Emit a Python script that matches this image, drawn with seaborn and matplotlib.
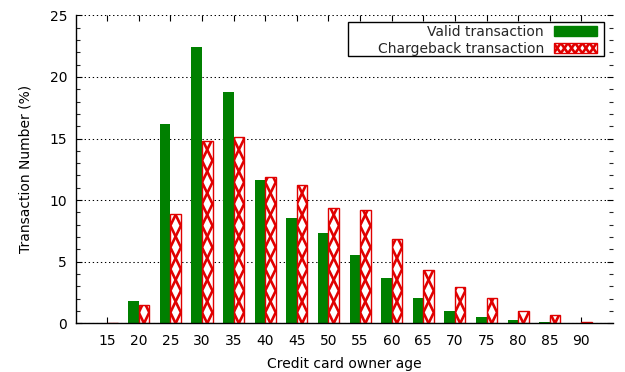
import numpy as np
import pandas as pd
import matplotlib
matplotlib.use("Agg")
import matplotlib.pyplot as plt
import seaborn as sns
from matplotlib.patches import Patch, Rectangle
from matplotlib.lines import Line2D
from matplotlib.legend_handler import HandlerBase
from matplotlib.ticker import MultipleLocator

ages = [15, 20, 25, 30, 35, 40, 45, 50, 55, 60, 65, 70, 75, 80, 85, 90]
valid = [0.04, 1.83, 16.2, 22.45, 18.77, 11.65, 8.55, 7.33, 5.54, 3.70, 2.05, 1.0, 0.51, 0.27, 0.11, 0.03]
chargeback = [0.0, 1.46, 8.87, 14.77, 15.15, 11.9, 11.25, 9.33, 9.22, 6.87, 4.33, 2.95, 2.05, 1.0, 0.67, 0.13]
series_names = ["Valid transaction", "Chargeback transaction"]
y_ticks = [0, 5, 10, 15, 20, 25]

GREEN = "#008000"
RED = "#e00000"
HATCH_LW = 1.9

sns.set_theme(style="white")
plt.rcParams["font.family"] = ["DejaVu Sans"]
FS = 10

df = pd.DataFrame({
    "age": [str(a) for a in ages] * 2,
    "pct": valid + chargeback,
    "type": [series_names[0]] * len(ages) + [series_names[1]] * len(ages),
})

fig = plt.figure(figsize=(6.25, 3.72), dpi=100)
ax = fig.add_axes([75.5 / 625, 1 - 323.3 / 372, (613 - 75.5) / 625, (323.3 - 15.3) / 372])

sns.barplot(data=df, x="age", y="pct", hue="type", order=[str(a) for a in ages],
            hue_order=series_names, palette=[GREEN, "white"], width=2 / 3,
            dodge=True, saturation=1, linewidth=0, errorbar=None, legend=False, ax=ax)

ax.set_xlim(-1, 16)
ax.set_ylim(0, 25)

n = len(ages)
# half period of the cross pattern, in data units (about 21.7 px)
half = 21.7 * (25 / 308.0)
for i, p in enumerate(ax.patches[:2 * n]):
    if i >= n:
        p.set_facecolor("white")
        p.set_edgecolor(RED)
        p.set_linewidth(1.0)
        h = p.get_height()
        if h <= 0:
            continue
        x0, w = p.get_x(), p.get_width()
        k = int(np.ceil(h / half)) + 1
        ys = np.arange(k + 1) * half
        xa = np.where(np.arange(k + 1) % 2 == 0, x0, x0 + w)
        xb = np.where(np.arange(k + 1) % 2 == 0, x0 + w, x0)
        for xs in (xa, xb):
            ln, = ax.plot(xs, ys - half / 2, color=RED, lw=HATCH_LW, zorder=p.get_zorder() + 0.1,
                          solid_joinstyle="miter")
            ln.set_clip_path(p)
    else:
        p.set_facecolor(GREEN)
        p.set_edgecolor(GREEN)

ax.set_yticks(y_ticks)
ax.yaxis.set_minor_locator(MultipleLocator(1))
ax.set_xticks(range(n))
ax.set_xticklabels([str(a) for a in ages])

ax.set_axisbelow(True)
ax.yaxis.grid(True, which="major", linestyle=(0, (1.3, 2.6)), color="black", linewidth=0.75)
ax.xaxis.grid(False)

for s in ["top", "right"]:
    ax.spines[s].set_visible(False)
for s in ["left", "bottom"]:
    ax.spines[s].set_visible(True)
    ax.spines[s].set_color("black")
    ax.spines[s].set_linewidth(1.0)

ax.tick_params(axis="x", which="major", direction="in", length=4.3, width=0.8,
               top=True, bottom=True, labelsize=FS, pad=7.5, colors="black")
ax.tick_params(axis="y", which="major", direction="in", length=4.3, width=0.8,
               left=True, right=True, labelsize=FS, pad=6, colors="black")
ax.tick_params(axis="y", which="minor", direction="in", length=2.8, width=0.8,
               left=True, right=True)

ax.set_xlabel("Credit card owner age", fontsize=FS, color="black", labelpad=7)
ax.set_ylabel("Transaction Number (%)", fontsize=FS, color="black", labelpad=12.5)


class CrossHandler(HandlerBase):
    def create_artists(self, legend, orig_handle, xdescent, ydescent, width, height,
                       fontsize, trans):
        rect = Rectangle((-xdescent, -ydescent), width, height, facecolor="white",
                         edgecolor=RED, linewidth=1.0, transform=trans)
        m = 6
        xs = -xdescent + np.linspace(0, width, m + 1)
        top = -ydescent + height
        bot = -ydescent
        ya = np.where(np.arange(m + 1) % 2 == 0, top, bot)
        yb = np.where(np.arange(m + 1) % 2 == 0, bot, top)
        arts = [rect]
        for yy in (ya, yb):
            ln = Line2D(xs, yy, color=RED, lw=HATCH_LW, transform=trans)
            ln.set_clip_path(rect)
            arts.append(ln)
        return arts


handles = [Patch(facecolor=GREEN, edgecolor=GREEN), Patch(facecolor="white", edgecolor=RED)]
aw, ah = 613 - 75.5, 323.3 - 15.3
leg = ax.legend(handles, series_names, loc="upper right",
                bbox_to_anchor=(1 - (613 - 596.7) / aw, 1 - (24.5 - 15.3) / ah),
                borderaxespad=0, borderpad=0, frameon=False, markerfirst=False,
                fontsize=FS, handlelength=3.1, handleheight=0.75,
                handletextpad=0.7, labelspacing=0.25,
                handler_map={handles[1]: CrossHandler()})
ax.add_patch(Rectangle(((348.3 - 75.5) / aw, 1 - (55.7 - 15.3) / ah),
                       (604.3 - 348.3) / aw, (55.7 - 22.3) / ah,
                       transform=ax.transAxes, fill=False, edgecolor="black",
                       linewidth=1.0, zorder=5, clip_on=False))

fig.savefig("out.png", dpi=100)
